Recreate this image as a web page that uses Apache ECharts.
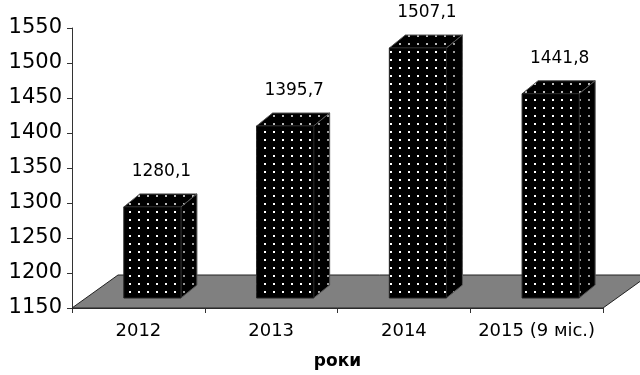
<!DOCTYPE html>
<html>
<head>
<meta charset="utf-8">
<script src="https://cdn.jsdelivr.net/npm/echarts@6/dist/echarts.min.js"></script>
<style>
  html, body { margin: 0; padding: 0; background: #fff; }
  #main { width: 640px; height: 375px; }
</style>
</head>
<body>
<div id="main"></div>
<script>
var years = ['2012', '2013', '2014', '2015 (9 міс.)'];
var values = [1280.1, 1395.7, 1507.1, 1441.8];
var valueLabels = ['1280,1', '1395,7', '1507,1', '1441,8'];
var yMin = 1150, yMax = 1550, yStep = 50;

// black fill with small white dots
function dots(bg, dot, w, h) {
  var c = document.createElement('canvas');
  c.width = w; c.height = h;
  var g = c.getContext('2d');
  g.fillStyle = bg; g.fillRect(0, 0, w, h);
  g.fillStyle = dot; g.fillRect(3, 3, 2, 2);
  return { image: c, repeat: 'repeat' };
}
var frontFill = dots('#000', '#fff', 9, 8);
var sideFill = dots('#000', '#9a9a9a', 9, 8);
var topFill = dots('#000', '#bbbbbb', 9, 8);

// 3d offsets (px)
var DX = 14, DY = -10;   // bar front face shift
var BX = 16, BY = -13;   // bar depth
var FX = 46, FY = -33;   // floor depth

function renderFloor(params, api) {
  var w = api.size([1, 0])[0];
  var l = api.coord([0, yMin]);
  var r = api.coord([years.length - 1, yMin]);
  var x0 = l[0] - w / 2, x1 = r[0] + w / 2, y = l[1];
  return {
    type: 'polygon',
    shape: { points: [[x0, y], [x1, y], [x1 + FX, y + FY], [x0 + FX, y + FY]] },
    style: { fill: '#808080', stroke: '#222', lineWidth: 1 }
  };
}

function renderBar(params, api) {
  var i = api.value(0);
  var top = api.coord([i, api.value(1)]);
  var base = api.coord([i, yMin]);
  var bw = api.size([1, 0])[0] * 0.43;
  var x0 = top[0] + DX - bw / 2, x1 = x0 + bw;
  var yT = top[1] + DY, yB = base[1] + DY;
  return {
    type: 'group',
    children: [
      { type: 'polygon',
        shape: { points: [[x0, yT], [x1, yT], [x1 + BX, yT + BY], [x0 + BX, yT + BY]] },
        style: { fill: topFill, stroke: '#555', lineWidth: 1 } },
      { type: 'polygon',
        shape: { points: [[x1, yT], [x1 + BX, yT + BY], [x1 + BX, yB + BY], [x1, yB]] },
        style: { fill: sideFill, stroke: '#555', lineWidth: 1 } },
      { type: 'rect',
        shape: { x: x0, y: yT, width: bw, height: yB - yT },
        style: { fill: frontFill, stroke: '#222', lineWidth: 1 } },
      { type: 'text', x: (x0 + x1) / 2 + 9, y: yT - 35,
        style: { text: valueLabels[params.dataIndex], fontSize: 17, fontFamily: 'DejaVu Sans',
                 fill: '#000', align: 'center', verticalAlign: 'middle' } }
    ]
  };
}

var myChart = echarts.init(document.getElementById('main'));
var option = {
  animation: false,
  grid: { left: 72, right: 37, top: 28, bottom: 65 },
  xAxis: {
    type: 'category',
    data: years,
    boundaryGap: true,
    name: 'роки',
    nameLocation: 'middle',
    nameGap: 45,
    nameTextStyle: { fontSize: 17, fontWeight: 'bold', fontFamily: 'DejaVu Sans', color: '#000' },
    axisLine: { lineStyle: { color: '#333' } },
    axisTick: { show: true, length: 5, interval: 0, lineStyle: { color: '#333' } },
    axisLabel: { fontSize: 18, fontFamily: 'DejaVu Sans', color: '#000', margin: 14, interval: 0 }
  },
  yAxis: {
    type: 'value',
    min: yMin, max: yMax, interval: yStep,
    splitLine: { show: false },
    axisLine: { show: true, lineStyle: { color: '#333' } },
    axisTick: { show: true, length: 5, lineStyle: { color: '#333' } },
    axisLabel: { fontSize: 21, fontFamily: 'DejaVu Sans', color: '#000', margin: 10,
                 formatter: function (v) { return String(v); } }
  },
  series: [
    { type: 'custom', renderItem: renderFloor, data: [[0, yMin]], z: 2, silent: true },
    { type: 'custom', renderItem: renderBar, z: 3,
      data: values.map(function (v, i) { return [i, v]; }) }
  ]
};
myChart.setOption(option);
</script>
</body>
</html>
